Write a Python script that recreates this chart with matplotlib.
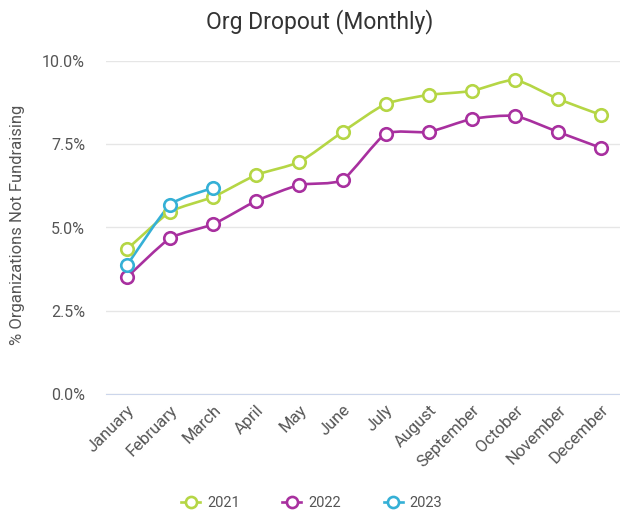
import matplotlib
matplotlib.use("Agg")
import matplotlib.pyplot as plt
from matplotlib.path import Path
from matplotlib.patches import PathPatch
from matplotlib.lines import Line2D
from matplotlib.ticker import FuncFormatter

plt.rcParams['font.family'] = ['Roboto', 'DejaVu Sans']

months = ['January', 'February', 'March', 'April', 'May', 'June', 'July',
          'August', 'September', 'October', 'November', 'December']
y2021 = [4.35, 5.47, 5.92, 6.58, 6.97, 7.87, 8.71, 8.98, 9.10, 9.43, 8.86, 8.38]
y2022 = [3.51, 4.68, 5.10, 5.80, 6.28, 6.43, 7.81, 7.87, 8.26, 8.35, 7.87, 7.39]
y2023 = [3.87, 5.68, 6.19]

years = ['2021', '2022', '2023']
colors = ['#b5d645', '#a8309f', '#35b0d6']


# smooth curve through the points as bezier path (drawing only)
def spline_path(xs, ys, k=0.6):
    n = len(xs)
    verts = [(xs[0], ys[0])]
    codes = [Path.MOVETO]
    for i in range(n - 1):
        x0, y0 = xs[max(i - 1, 0)], ys[max(i - 1, 0)]
        x1, y1 = xs[i], ys[i]
        x2, y2 = xs[i + 1], ys[i + 1]
        x3, y3 = xs[min(i + 2, n - 1)], ys[min(i + 2, n - 1)]
        c1 = (x1 + (x2 - x0) / 6 * k, y1 + (y2 - y0) / 6 * k)
        c2 = (x2 - (x3 - x1) / 6 * k, y2 - (y3 - y1) / 6 * k)
        verts += [c1, c2, (x2, y2)]
        codes += [Path.CURVE4] * 3
    return Path(verts, codes)


fig = plt.figure(figsize=(6.2, 5.13), dpi=100)
ax = fig.add_axes([106 / 620, 119 / 513, 1 - 106 / 620, 333 / 513])

for vals, c in zip([y2021, y2022, y2023], colors):
    xs = list(range(len(vals)))
    ax.add_patch(PathPatch(spline_path(xs, vals), facecolor='none', edgecolor=c,
                           lw=1.9, zorder=3, capstyle='round'))
    ax.plot(xs, vals, ls='none', marker='o', ms=9, mfc='white', mec=c, mew=1.9, zorder=4)

ax.set_xlim(-0.49, 11.44)
ax.set_ylim(0, 10)
ax.set_yticks([0, 2.5, 5, 7.5, 10])
ax.yaxis.set_major_formatter(FuncFormatter(lambda v, p: '%.1f%%' % v))
ax.set_xticks(range(12))
ax.set_xticklabels(months, rotation=45, ha='right', rotation_mode='anchor')
ax.grid(axis='y', color='#e6e6e6', lw=1)
ax.set_axisbelow(True)
for s in ['top', 'right', 'left']:
    ax.spines[s].set_visible(False)
ax.spines['bottom'].set_color('#ccd6eb')
ax.tick_params(axis='both', length=0, labelcolor='#555555')
ax.tick_params(axis='x', pad=6, labelsize=12)
ax.tick_params(axis='y', pad=15, labelsize=11.5)

fig.text(18 / 620, 1 - 225 / 513, '% Organizations Not Fundraising', rotation=90,
         ha='center', va='center', fontsize=12, color='#555555')
fig.text(0.515, 1 - 22 / 513, 'Org Dropout (Monthly)', ha='center', va='center',
         fontsize=16.5, color='#333333')

handles = [Line2D([], [], color=c, lw=1.9, marker='o', ms=8, mfc='white', mec=c, mew=1.9)
           for c in colors]
fig.legend(handles, years, loc='center', bbox_to_anchor=(0.503, 1 - 503 / 513), ncol=3,
           frameon=False, handlelength=1.3, columnspacing=2.9, handletextpad=0.5,
           prop={'size': 10.5}, labelcolor='#555555')

fig.savefig('out.png', dpi=100)
